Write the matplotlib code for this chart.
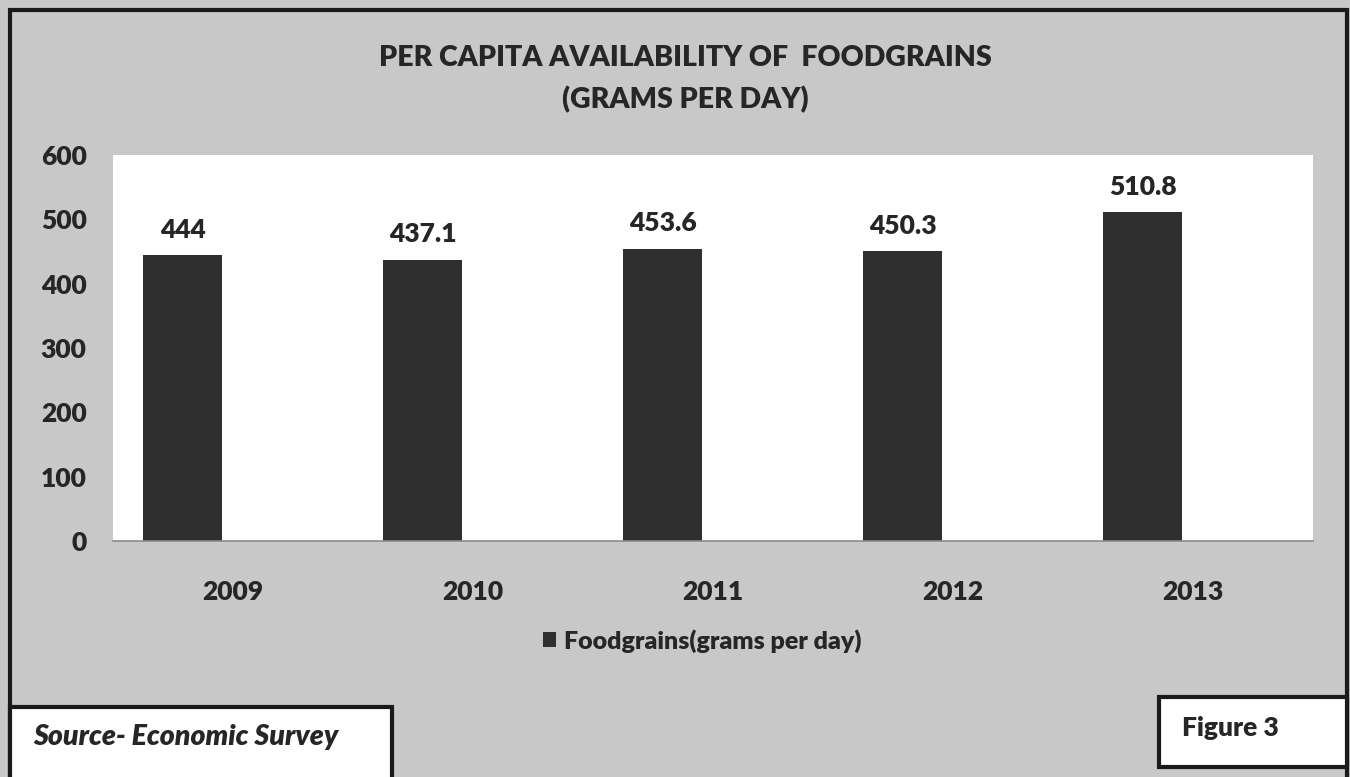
import matplotlib.pyplot as plt
from matplotlib.patches import Rectangle
import numpy as np

years = ['2009', '2010', '2011', '2012', '2013']
foodgrains = [444, 437.1, 453.6, 450.3, 510.8]
y_ticks = [0, 100, 200, 300, 400, 500, 600]

plt.rcParams['font.family'] = ['Lato', 'DejaVu Sans']

bg = '#c8c8c8'
bar_color = '#2f2f2f'
text_color = '#262626'
weight = 'heavy'

fig = plt.figure(figsize=(13.5, 7.77), dpi=100)
fig.patch.set_facecolor(bg)

# outer frame of the figure
fig.patches.append(Rectangle((10 / 1350, -0.01), 1337 / 1350, (767 + 8) / 777,
                             transform=fig.transFigure, fill=False,
                             edgecolor='#1a1a1a', linewidth=3, zorder=0))

ax = fig.add_axes([113 / 1350, (777 - 541) / 777, 1200 / 1350, 386 / 777])
ax.set_facecolor('white')

x = np.arange(len(years))
bar_x = x - 0.21
bars = ax.bar(bar_x, foodgrains, width=0.33, color=bar_color,
              label='Foodgrains(grams per day)', zorder=2)

for bx, v in zip(bar_x, foodgrains):
    ax.text(bx, v + 40, f'{v:g}', ha='center', va='center',
            fontsize=19, fontweight=weight, color=text_color)

ax.set_xlim(-0.5, 4.5)
ax.set_ylim(0, 600)
ax.set_yticks(y_ticks)
ax.set_xticks(x)
ax.set_xticklabels(years)
ax.tick_params(axis='both', length=0, labelsize=19, labelcolor=text_color)
ax.tick_params(axis='y', pad=19)
ax.tick_params(axis='x', pad=28)
for lbl in ax.get_xticklabels() + ax.get_yticklabels():
    lbl.set_fontweight(weight)

for side in ['top', 'right', 'left']:
    ax.spines[side].set_visible(False)
ax.spines['bottom'].set_color('#8a8a8a')
ax.spines['bottom'].set_linewidth(1.2)

fig.text(0.508, 1 - 58 / 777, 'PER CAPITA AVAILABILITY OF  FOODGRAINS',
         ha='center', va='center', fontsize=20.5, fontweight=weight, color=text_color)
fig.text(0.508, 1 - 100 / 777, '(GRAMS PER DAY)',
         ha='center', va='center', fontsize=20.5, fontweight=weight, color=text_color)

leg = fig.legend(handles=[bars], loc='center', bbox_to_anchor=(702 / 1350, 1 - 641 / 777),
                 frameon=False, fontsize=18, handlelength=0.55, handleheight=0.55,
                 handletextpad=0.3)
for t in leg.get_texts():
    t.set_fontweight(weight)
    t.set_color(text_color)

# source and figure number boxes
fig.patches.append(Rectangle((10 / 1350, -0.02), 382 / 1350, (777 - 707) / 777 + 0.02,
                             transform=fig.transFigure, facecolor='white',
                             edgecolor='#1a1a1a', linewidth=3, zorder=1))
fig.text(33 / 1350, 1 - 737 / 777, 'Source- Economic Survey', ha='left', va='center',
         fontsize=20.5, fontweight=weight, fontstyle='italic', color=text_color)

fig.patches.append(Rectangle((1159 / 1350, (777 - 767) / 777), 188 / 1350, 70 / 777,
                             transform=fig.transFigure, facecolor='white',
                             edgecolor='#1a1a1a', linewidth=3, zorder=1))
fig.text(1182 / 1350, 1 - 728 / 777, 'Figure 3', ha='left', va='center',
         fontsize=19, fontweight=weight, color=text_color)

fig.savefig('out.png', dpi=100, facecolor=bg)
